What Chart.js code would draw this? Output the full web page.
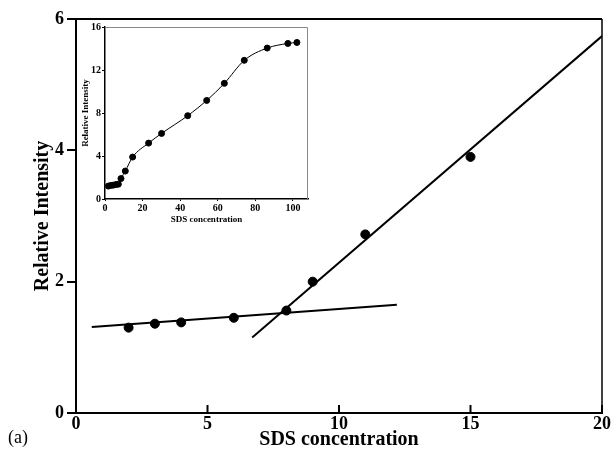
<!DOCTYPE html>
<html>
<head>
<meta charset="utf-8">
<script src="https://cdn.jsdelivr.net/npm/chart.js@4.4.0/dist/chart.umd.min.js"></script>
<style>
  html, body { margin: 0; padding: 0; background: #fff; }
  #wrap { position: relative; width: 614px; height: 454px; }
  #mainChart { position: absolute; left: 0; top: 0; }
  #insetChart { position: absolute; left: 78px; top: 20px; }
</style>
</head>
<body>
<div id="wrap">
  <canvas id="mainChart" width="614" height="454"></canvas>
  <canvas id="insetChart" width="236" height="210"></canvas>
</div>
<script>
// main plot: measured points (low SDS range)
const mainConc = [2, 3, 4, 6, 8, 9, 11, 15];
const mainIntensity = [1.30, 1.36, 1.38, 1.45, 1.56, 2.0, 2.72, 3.90];

// the two fitted straight lines (end points)
const fitLowX = [0.6, 12.2];
const fitLowY = [1.31, 1.65];
const fitHighX = [6.7, 20];
const fitHighY = [1.15, 5.74];

// inset: full concentration range
const insetConc = [1.8, 3.0, 4.4, 5.9, 7.1, 8.5, 10.8, 14.7, 23.2, 30.1, 44, 54.1, 63.5, 74.1, 86.3, 97.3, 102.1];
const insetIntensity = [1.2, 1.26, 1.29, 1.35, 1.38, 1.9, 2.6, 3.9, 5.2, 6.1, 7.75, 9.17, 10.76, 12.9, 14.04, 14.47, 14.56];

const serif = "'Liberation Serif', 'Times New Roman', serif";

function toPoints(xs, ys) {
    return xs.map((x, i) => ({ x: x, y: ys[i] }));
}

// frame on top/right, inward x ticks and the "(a)" mark
const mainFrame = {
    id: "mainFrame",
    afterDraw(chart) {
        const { ctx, chartArea: a, scales } = chart;
        ctx.save();
        ctx.strokeStyle = "#000";
        ctx.lineWidth = 2;
        ctx.beginPath();
        ctx.moveTo(a.left, a.top);
        ctx.lineTo(a.right, a.top);
        ctx.stroke();
        ctx.lineWidth = 1.5;
        ctx.beginPath();
        ctx.moveTo(a.right, a.top);
        ctx.lineTo(a.right, a.bottom);
        ctx.stroke();
        ctx.lineWidth = 2;
        scales.x.ticks.forEach(t => {
            const px = scales.x.getPixelForValue(t.value);
            ctx.beginPath();
            ctx.moveTo(px, a.bottom);
            ctx.lineTo(px, a.bottom - 8);
            ctx.stroke();
        });
        ctx.fillStyle = "#000";
        ctx.font = "18px " + serif;
        ctx.textBaseline = "middle";
        ctx.fillText("(a)", 8, 438);
        ctx.restore();
    }
};

const insetFrame = {
    id: "insetFrame",
    afterDraw(chart) {
        const { ctx, chartArea: a } = chart;
        ctx.save();
        ctx.strokeStyle = "#888";
        ctx.lineWidth = 1;
        ctx.beginPath();
        ctx.moveTo(a.left, a.top + 0.5);
        ctx.lineTo(a.right - 0.5, a.top + 0.5);
        ctx.lineTo(a.right - 0.5, a.bottom);
        ctx.stroke();
        ctx.restore();
    }
};

new Chart(document.getElementById("mainChart"), {
    type: "scatter",
    data: {
        datasets: [
            {
                data: toPoints(fitLowX, fitLowY),
                showLine: true,
                borderColor: "#000",
                borderWidth: 2,
                pointRadius: 0
            },
            {
                data: toPoints(fitHighX, fitHighY),
                showLine: true,
                borderColor: "#000",
                borderWidth: 2,
                pointRadius: 0
            },
            {
                data: toPoints(mainConc, mainIntensity),
                backgroundColor: "#000",
                borderColor: "#000",
                pointRadius: 4.5
            }
        ]
    },
    options: {
        responsive: false,
        animation: false,
        devicePixelRatio: 1,
        layout: { padding: { left: 0, top: 19, right: 12, bottom: 0 } },
        plugins: { legend: { display: false }, tooltip: { enabled: false } },
        scales: {
            x: {
                type: "linear",
                min: 0,
                max: 20,
                afterFit: s => { s.height = 41; },
                ticks: { stepSize: 5, padding: -7, color: "#000", font: { family: serif, size: 18, weight: "bold" } },
                grid: { display: false },
                border: { color: "#000", width: 2 },
                title: {
                    display: true,
                    text: "SDS concentration",
                    color: "#000",
                    font: { family: serif, size: 20, weight: "bold" },
                    padding: { top: 0, bottom: 2 }
                }
            },
            y: {
                min: 0,
                max: 6,
                afterFit: s => { s.width = 76; },
                ticks: { stepSize: 2, padding: 3, color: "#000", font: { family: serif, size: 18, weight: "bold" } },
                grid: { drawOnChartArea: false, drawTicks: true, tickLength: 9, color: "#000", lineWidth: 2 },
                border: { color: "#000", width: 2 },
                title: {
                    display: true,
                    text: "Relative Intensity",
                    color: "#000",
                    font: { family: serif, size: 20, weight: "bold" },
                    padding: { top: 31, bottom: 0 }
                }
            }
        }
    },
    plugins: [mainFrame]
});

new Chart(document.getElementById("insetChart"), {
    type: "scatter",
    data: {
        datasets: [{
            data: toPoints(insetConc, insetIntensity),
            showLine: true,
            cubicInterpolationMode: "monotone",
            borderColor: "#000",
            borderWidth: 1,
            backgroundColor: "#000",
            pointRadius: 3
        }]
    },
    options: {
        responsive: false,
        animation: false,
        devicePixelRatio: 1,
        layout: { padding: { left: 0, top: 5, right: 6, bottom: 0 } },
        plugins: { legend: { display: false }, tooltip: { enabled: false } },
        scales: {
            x: {
                type: "linear",
                min: 0,
                max: 108,
                afterFit: s => { s.height = 31; },
                ticks: { stepSize: 20, includeBounds: false, padding: 1, color: "#000", font: { family: serif, size: 10, weight: "bold" } },
                grid: { drawOnChartArea: false, drawTicks: true, tickLength: 2, color: "#000", lineWidth: 1 },
                border: { color: "#000", width: 1.5 },
                title: {
                    display: true,
                    text: "SDS concentration",
                    color: "#000",
                    font: { family: serif, size: 9, weight: "bold" },
                    padding: { top: 0, bottom: 5 }
                }
            },
            y: {
                min: 0,
                max: 16,
                afterFit: s => { s.width = 27; },
                ticks: { stepSize: 4, padding: 1, color: "#000", font: { family: serif, size: 10, weight: "bold" } },
                grid: { drawOnChartArea: false, drawTicks: true, tickLength: 3, color: "#000", lineWidth: 1 },
                border: { color: "#000", width: 1.5 },
                title: {
                    display: true,
                    text: "Relative Intensity",
                    color: "#000",
                    font: { family: serif, size: 9, weight: "bold" },
                    padding: { top: 2, bottom: 0 }
                }
            }
        }
    },
    plugins: [insetFrame]
});
</script>
</body>
</html>
